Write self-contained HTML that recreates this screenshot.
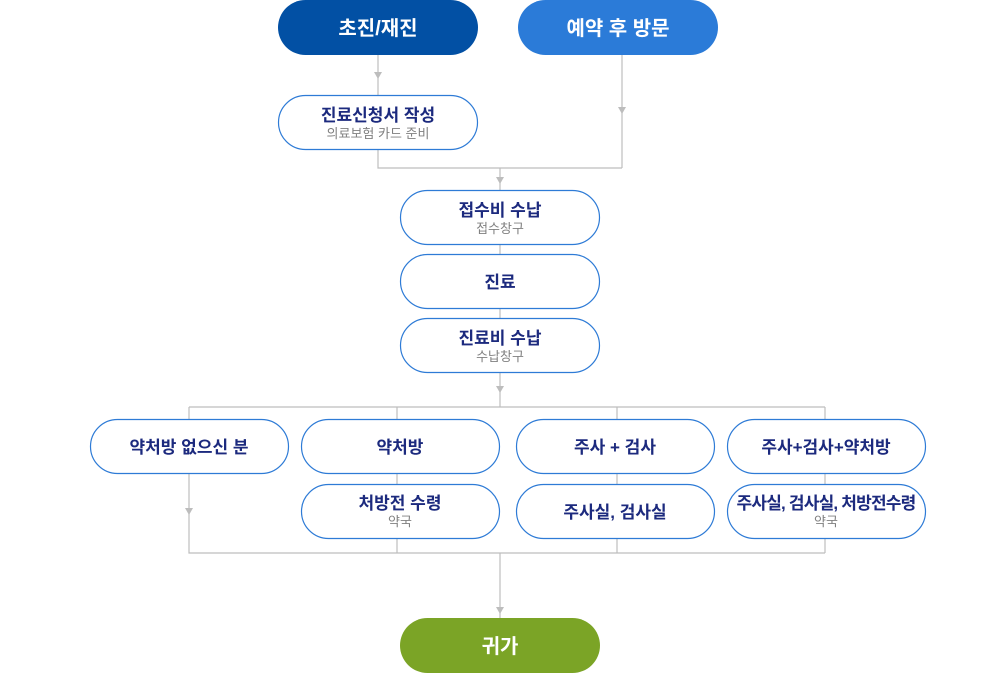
<!DOCTYPE html>
<html><head><meta charset="utf-8"><style>
html,body{margin:0;padding:0;background:#fff;}
svg{display:block;font-family:"Liberation Sans","Noto Sans CJK KR",sans-serif;}
.t{font-weight:bold;fill:#1c2a7e;font-size:17px;text-anchor:middle;}
.s{fill:#808080;font-size:13px;text-anchor:middle;}
.w{font-weight:bold;fill:#fff;font-size:20px;text-anchor:middle;}
.b{fill:#fff;stroke:#2e7bd6;stroke-width:1.2;}
.l{stroke:#bdbdbd;stroke-width:1.2;fill:none;}
.a{fill:#bdbdbd;}
</style></head><body>
<svg width="1000" height="673" viewBox="0 0 1000 673">
<!-- connectors -->
<path class="l" d="M378 55V95 M622 55V168 M378 150V168H622 M500 168V190 M500 245V254 M500 309V318 M500 373V407 M189 407H825 M189 407V419 M397 407V419 M617 407V419 M825 407V419 M189 473V553H825 M397 473V484 M617 473V484 M825 473V484 M397 538V553 M617 538V553 M825 538V553 M500 553V618"/>
<polygon class="a" points="374,72 382,72 378,79"/>
<polygon class="a" points="618,107 626,107 622,114"/>
<polygon class="a" points="496,177 504,177 500,184"/>
<polygon class="a" points="496,386 504,386 500,393"/>
<polygon class="a" points="185,508 193,508 189,515"/>
<polygon class="a" points="496,607 504,607 500,614"/>
<!-- top -->
<rect x="278" y="0" width="200" height="55" rx="27.5" fill="#0250a4"/>
<text class="w" x="378" y="35">초진/재진</text>
<rect x="518" y="0" width="200" height="55" rx="27.5" fill="#2b7bd8"/>
<text class="w" x="618" y="35">예약 후 방문</text>
<rect class="b" x="278.5" y="95.5" width="199" height="54" rx="27"/>
<text class="t" x="378" y="121">진료신청서 작성</text>
<text class="s" x="378" y="138">의료보험 카드 준비</text>
<rect class="b" x="400.5" y="190.5" width="199" height="54" rx="27"/>
<text class="t" x="500" y="216">접수비 수납</text>
<text class="s" x="500" y="233">접수창구</text>
<rect class="b" x="400.5" y="254.5" width="199" height="54" rx="27"/>
<text class="t" x="500" y="288">진료</text>
<rect class="b" x="400.5" y="318.5" width="199" height="54" rx="27"/>
<text class="t" x="500" y="344">진료비 수납</text>
<text class="s" x="500" y="361">수납창구</text>
<!-- row -->
<rect class="b" x="90.5" y="419.5" width="198" height="54" rx="27"/>
<text class="t" x="189" y="453">약처방 없으신 분</text>
<rect class="b" x="301.5" y="419.5" width="198" height="54" rx="27"/>
<text class="t" x="400" y="453">약처방</text>
<rect class="b" x="516.5" y="419.5" width="198" height="54" rx="27"/>
<text class="t" x="615" y="453">주사 + 검사</text>
<rect class="b" x="727.5" y="419.5" width="198" height="54" rx="27"/>
<text class="t" x="826" y="453">주사+검사+약처방</text>
<rect class="b" x="301.5" y="484.5" width="198" height="54" rx="27"/>
<text class="t" x="400" y="509">처방전 수령</text>
<text class="s" x="400" y="526">약국</text>
<rect class="b" x="516.5" y="484.5" width="198" height="54" rx="27"/>
<text class="t" x="615" y="518">주사실, 검사실</text>
<rect class="b" x="727.5" y="484.5" width="198" height="54" rx="27"/>
<text class="t" x="826" y="509" style="letter-spacing:-0.8px">주사실, 검사실, 처방전수령</text>
<text class="s" x="826" y="526">약국</text>
<rect x="400" y="618" width="200" height="55" rx="27.5" fill="#7ba426"/>
<text class="w" x="500" y="653">귀가</text>
</svg>
</body></html>
